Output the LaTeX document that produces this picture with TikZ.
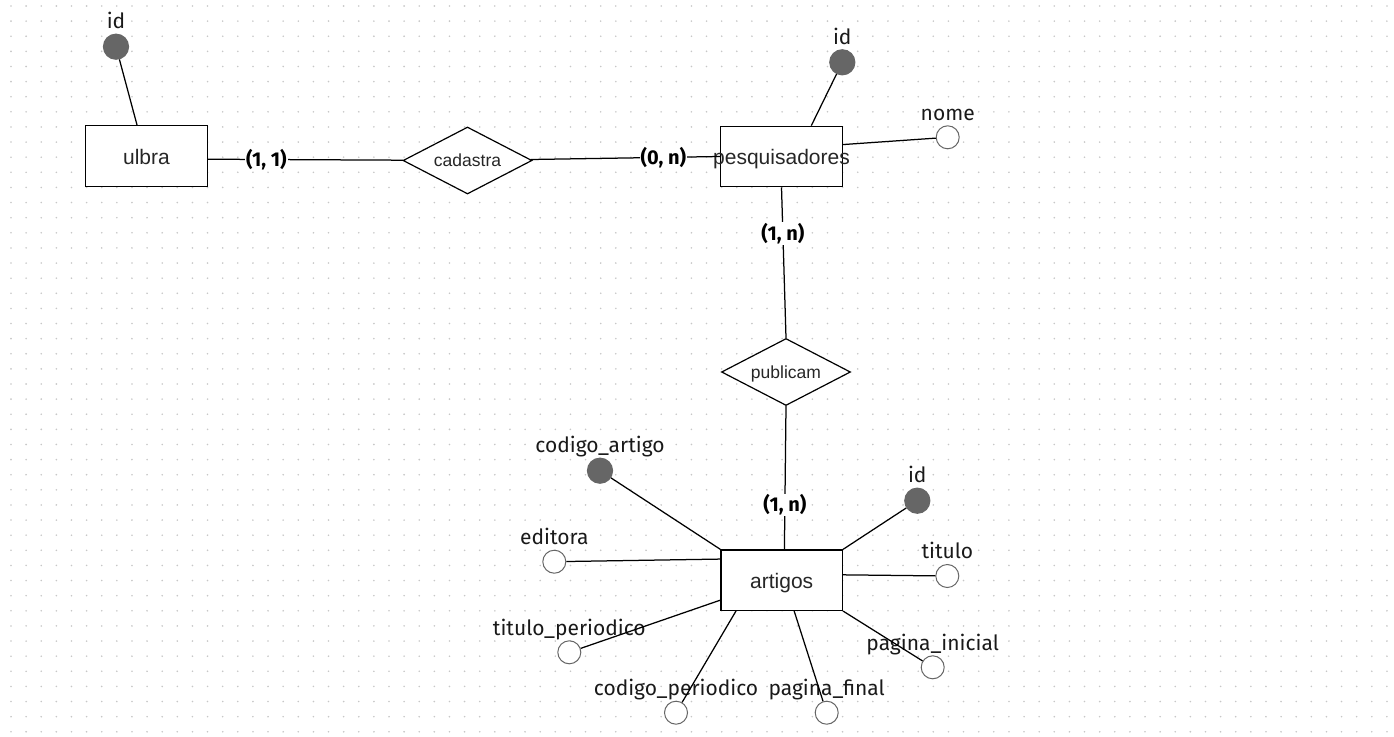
\documentclass[tikz,border=0pt]{standalone}
\usepackage{fontspec}
\newfontfamily\attrfont{Fira Sans}
\newfontfamily\shapefont{Liberation Sans}
\usetikzlibrary{shapes.geometric,positioning}
\tikzstyle{entity} = [draw, rectangle, line width=1.2pt, fill=white, inner sep=0pt, minimum width=121.5pt, minimum height=60.5pt, text height=16pt, text depth=0pt, font=\shapefont\fontsize{21}{25}\selectfont, text=black!85]
\tikzstyle{relation} = [draw, diamond, line width=1.2pt, fill=white, inner sep=0pt, shape aspect=1.93, minimum width=129pt, minimum height=67pt, text height=12.4pt, text depth=0pt, font=\shapefont\fontsize{17.5}{21}\selectfont, text=black!85]
\tikzstyle{keyattr} = [circle, draw=black!60, fill=black!60, inner sep=0pt, minimum size=25pt]
\tikzstyle{attr} = [circle, draw=black!60, line width=1pt, fill=white, inner sep=0pt, minimum size=23pt]
\tikzstyle{attrtext} = [inner sep=0pt, text depth=4.5pt, font=\attrfont\fontsize{21}{25}\selectfont, text=black!90]
\tikzstyle{card} = [fill=white, inner sep=1pt, font=\attrfont\bfseries\fontsize{20}{24}\selectfont]
\tikzstyle{griddot} = [fill=black!22]

\begin{document}
\begin{tikzpicture}[x=1pt, y=-1pt, line width=1.25pt]
		\useasboundingbox (0,0) rectangle (1394,736);
		% dotted background
		\foreach \i in {0,...,91}
			\foreach \j in {0,...,48}
				\fill[griddot] (11+15.12*\i, 6+15.12*\j) circle (0.9pt);
		
		\node [entity] (ulbra) at (146.5,156) {ulbra};
		\node [relation] (cadastra) at (467.5,160.5) {cadastra};
		\node [entity] (pesquisadores) at (781.5,156.5) {\makebox[0pt]{pesquisadores}};
		\node [relation] (publicam) at (786,372) {publicam};
		\node [entity] (artigos) at (781.7,580.2) {artigos};
		
		% atributos
		\node [keyattr] (ulbraid) at (116,46.7) {};
		\node [keyattr] (pesqid) at (842.3,62.3) {};
		\node [attr] (pesqnome) at (947.7,137.3) {};
		\node [keyattr] (artcod) at (600,470.7) {};
		\node [keyattr] (artid) at (917.3,500.7) {};
		\node [attr] (arteditora) at (554.3,561.7) {};
		\node [attr] (arttitulo) at (947.3,576) {};
		\node [attr] (artperiodico) at (569.3,652.3) {};
		\node [attr] (artcodper) at (676,712.7) {};
		\node [attr] (artfinal) at (826.7,712.7) {};
		\node [attr] (artinicial) at (932.7,667.3) {};
		
		\node [attrtext, above=0pt of ulbraid] (tulbraid) {id};
		\node [attrtext, above=0pt of pesqid] (tpesqid) {id};
		\node [attrtext, above=0pt of pesqnome] (tpesqnome) {nome};
		\node [attrtext, above=0pt of artcod] (tartcod) {codigo\_artigo};
		\node [attrtext, above=0pt of artid] (tartid) {id};
		\node [attrtext, above=0pt of arteditora] (tarteditora) {editora};
		\node [attrtext, above=0pt of arttitulo] (tarttitulo) {titulo};
		\node [attrtext, above=0pt of artperiodico] (tartperiodico) {titulo\_periodico};
		\node [attrtext, above=0pt of artcodper] (tartcodper) {codigo\_periodico};
		\node [attrtext, above=0pt of artfinal] (tartfinal) {pagina\_final};
		\node [attrtext, above=0pt of artinicial] (tartinicial) {pagina\_inicial};
		
		\draw (ulbraid) -- (ulbra.107.6);
		\draw (pesqid) -- (pesquisadores.46.3);
		\draw (pesqnome) -- (pesquisadores.11.7);
		\draw (artcod) -- (artigos.north west);
		\draw (artid) -- (artigos.north east);
		\draw (arteditora) -- (artigos.161.9);
		\draw (arttitulo) -- (artigos.5.6);
		\draw (artperiodico) -- (artigos.-162.5);
		\draw (artcodper) -- (artigos.-146);
		\draw (artfinal) -- (artigos.-68.9);
		\draw (artinicial) -- (artigos.south east);
		
		\draw (ulbra.-3) -- node[card, pos=0.3] (c1) {(1, 1)} (cadastra);
		\draw (cadastra) -- node[card, pos=0.7] (c2) {(0, n)} (pesquisadores.west);
		\draw (pesquisadores.south) -- node[card, pos=0.305] (c3) {(1, n)} (publicam.north);
		\draw (publicam.south) -- node[card, pos=0.69] (c4) {(1, n)} (artigos.85);
		
		\end{tikzpicture}
\end{document}
